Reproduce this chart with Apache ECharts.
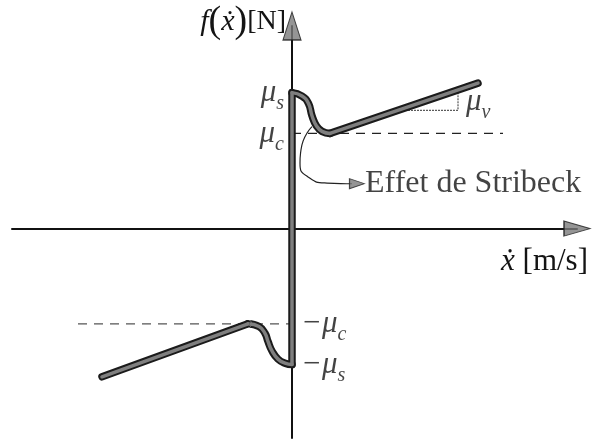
<!DOCTYPE html>
<html>
<head>
<meta charset="utf-8">
<script src="https://cdn.jsdelivr.net/npm/echarts@6/dist/echarts.min.js"></script>
<style>
  html, body { margin: 0; padding: 0; background: #fff; }
  #chart { width: 592px; height: 440px; }
</style>
</head>
<body>
<div id="chart"></div>
<script>
// Friction force vs. sliding velocity (Stribeck model)
const muS = 1.0;   // static friction level
const muC = 0.7;   // Coulomb friction level

// axis extents (velocity, force)
const xMin = -2.8, xMax = 2.85;
const yMin = -1.54, yMax = 1.49;

// sticking: vertical jump between -muS and +muS at zero velocity
const stickSegment = [[0, muS], [0, -muS]];

// positive velocity: Stribeck dip then viscous slope
const stribeckPos = [[0, 1.0], [0.1, 0.975], [0.165, 0.92], [0.2, 0.83], [0.245, 0.755], [0.3, 0.715], [0.38, 0.70]];
const viscousPos = [[0.38, 0.70], [1.86, 1.07]];

// negative velocity: mirror branch
const stribeckNeg = [[0, -1.0], [-0.07, -0.99], [-0.14, -0.96], [-0.2, -0.9], [-0.24, -0.83], [-0.27, -0.77], [-0.33, -0.72], [-0.44, -0.70]];
const viscousNeg = [[-0.44, -0.70], [-1.90, -1.09]];

// Coulomb reference levels (dashed)
const coulombPos = [[0, muC], [2.11, muC]];
const coulombNeg = [[-2.14, -muC], [0, -muC]];

// slope triangle for the viscous coefficient
const slopeTriangle = [[1.16, 0.87], [1.66, 0.87], [1.66, 1.02]];
const slopeLabelAt = [1.74, 0.93];

// "Effet de Stribeck" pointer: from the dip down to the caption
const stribeckPointer = [[0.20, 0.75], [0.09, 0.58], [0.08, 0.48], [0.16, 0.38], [0.35, 0.335], [0.60, 0.33]];
const pointerHead = [0.65, 0.33];
const captionAt = [0.73, 0.33];

// level labels on the force axis
const levelValues = [muS, muC, -muC, -muS];
const levelTexts = ['{mu|μ}{sub|s}', '{mu|μ}{sub|c}', '{mu|−μ}{sub|c}', '{mu|−μ}{sub|s}'];

const serif = 'Liberation Serif';
const ink = '#141414';
const outline = '#1b1b1b';
const fill = '#7f7f7f';

const subRich = {
  mu: { fontFamily: serif, fontStyle: 'italic', fontSize: 31, color: ink, lineHeight: 30 },
  sub: { fontFamily: serif, fontStyle: 'italic', fontSize: 20, color: ink, verticalAlign: 'bottom', lineHeight: 14, padding: [0, 0, -6, 0] }
};

// thick friction curve: dark outline under a grey core
function thickPath(data, smooth) {
  return [
    { type: 'line', data: data, smooth: smooth, symbol: 'none', z: 3, silent: true,
      lineStyle: { width: 7.5, color: outline, cap: 'round', join: 'round' } },
    { type: 'line', data: data, smooth: smooth, symbol: 'none', z: 4, silent: true,
      lineStyle: { width: 3.5, color: fill, cap: 'round', join: 'round' } }
  ];
}

const series = [].concat(
  thickPath(stickSegment, false),
  thickPath(stribeckPos, 0.5),
  thickPath(viscousPos, false),
  thickPath(stribeckNeg, 0.5),
  thickPath(viscousNeg, false),
  [
    { type: 'line', data: coulombPos, symbol: 'none', z: 2, silent: true,
      lineStyle: { width: 1.2, color: '#222', type: [9, 7] } },
    { type: 'line', data: coulombNeg, symbol: 'none', z: 2, silent: true,
      lineStyle: { width: 1.2, color: '#555', type: [9, 7] } },
    { type: 'line', data: slopeTriangle, symbol: 'none', z: 2, silent: true,
      lineStyle: { width: 1, color: '#333', type: [2, 1] } },
    { type: 'scatter', data: [slopeLabelAt], symbolSize: 0, z: 5, silent: true,
      label: { show: true, position: 'right', distance: 0, formatter: '{mu|μ}{sub|v}', rich: subRich } },
    { type: 'scatter', symbolSize: 0, z: 5, silent: true,
      data: levelValues.map((v, i) => ({
        value: [0, v],
        label: { show: true, position: v > 0 ? 'left' : 'right', distance: v > 0 ? 8 : 9,
                 formatter: levelTexts[i], rich: subRich }
      })) },
    // pointer to the caption
    { type: 'line', data: stribeckPointer, smooth: 0.6, symbol: 'none', z: 2, silent: true,
      lineStyle: { width: 1.2, color: '#222' } },
    { type: 'scatter', data: [{ value: pointerHead, symbolRotate: -90 }], symbol: 'triangle',
      symbolSize: [10, 15], z: 6, silent: true,
      itemStyle: { color: '#7a7a7a', borderColor: '#222', borderWidth: 1 } },
    { type: 'scatter', data: [captionAt], symbolSize: 0, z: 5, silent: true,
      label: { show: true, position: 'right', distance: 0, formatter: 'Effet de Stribeck',
               fontFamily: serif, fontSize: 32, color: ink } },
    // axis arrowheads
    { type: 'scatter', clip: false, z: 6, silent: true,
      data: [
        { value: [0, yMax], symbolSize: [18, 28], symbolRotate: 0 },
        { value: [xMax, 0], symbolSize: [15, 26], symbolRotate: -90 }
      ],
      symbol: 'triangle',
      itemStyle: { color: '#7a7a7a', borderColor: outline, borderWidth: 1.2 } }
  ]
);

const chart = echarts.init(document.getElementById('chart'), null, { renderer: 'canvas' });
chart.setOption({
  animation: false,
  backgroundColor: '#ffffff',
  grid: { left: 12, right: 15, top: 26, bottom: 2, containLabel: false },
  xAxis: {
    type: 'value', min: xMin, max: xMax,
    axisLine: { onZero: true, lineStyle: { color: '#111', width: 2 } },
    axisTick: { show: false }, axisLabel: { show: false }, splitLine: { show: false },
    name: '{i|ẋ}{r| [m/s]}', nameLocation: 'end', nameGap: 11,
    nameTextStyle: { align: 'right', verticalAlign: 'top', padding: [18, 0, 0, 0],
      rich: {
        i: { fontFamily: serif, fontStyle: 'italic', fontSize: 31, color: ink },
        r: { fontFamily: serif, fontSize: 31, color: ink }
      } }
  },
  yAxis: {
    type: 'value', min: yMin, max: yMax,
    axisLine: { onZero: true, lineStyle: { color: '#111', width: 2 } },
    axisTick: { show: false }, axisLabel: { show: false }, splitLine: { show: false },
    name: '{i|f}{p|(}{i|ẋ}{p|)}{r|[N]}', nameLocation: 'end', nameGap: 4,
    nameTextStyle: { align: 'right', verticalAlign: 'middle', padding: [0, 6, 0, 0],
      rich: {
        i: { fontFamily: serif, fontStyle: 'italic', fontSize: 30, color: ink },
        p: { fontFamily: serif, fontSize: 38, color: ink },
        r: { fontFamily: serif, fontSize: 28, color: ink }
      } }
  },
  series: series
});
</script>
</body>
</html>
